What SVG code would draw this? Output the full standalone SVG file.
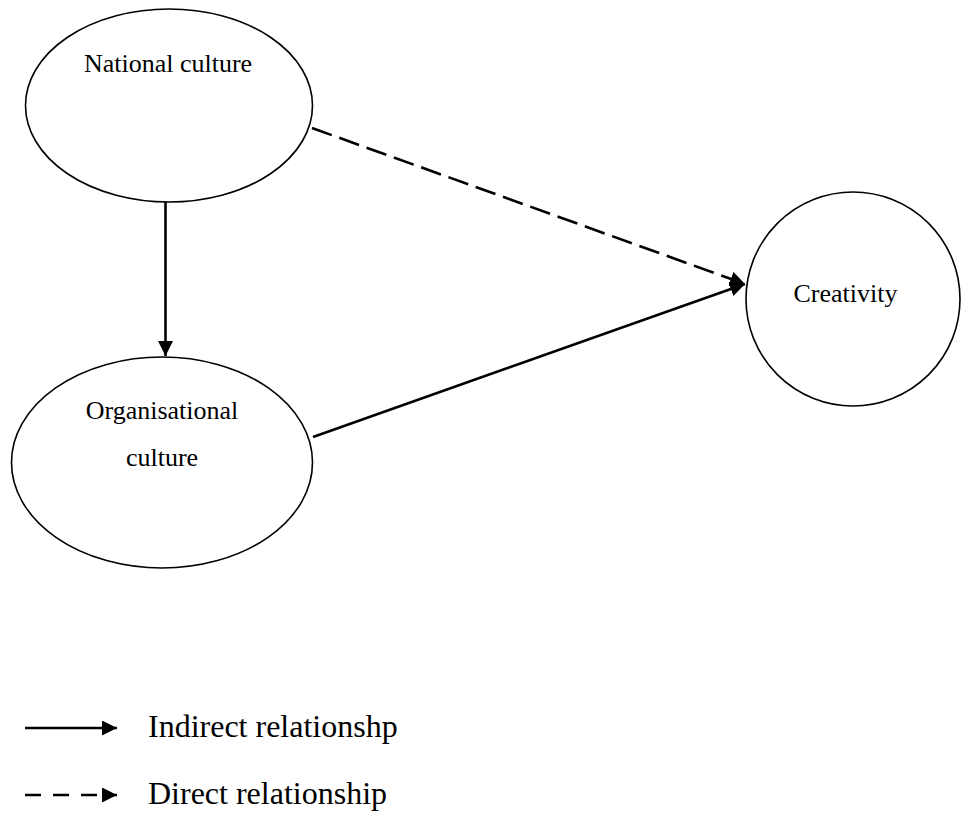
<svg xmlns="http://www.w3.org/2000/svg" width="961" height="813" viewBox="0 0 961 813">
  <style>
    .node { fill: #ffffff; stroke: #000000; stroke-width: 1.6; }
    .label { font-family: "Liberation Serif", "Times New Roman", serif; font-size: 26px; fill: #000000; text-anchor: middle; }
    .legend-text { font-family: "Liberation Serif", "Times New Roman", serif; font-size: 32px; fill: #000000; }
    .edge { fill: none; stroke: #000000; stroke-width: 2.6; }
    .dashed { stroke-dasharray: 21 8; }
    .legend-dashed { stroke-dasharray: 16 12; }
  </style>
  <defs>
    <marker id="arrow" viewBox="0 0 15 15" refX="15" refY="7.5" markerWidth="15" markerHeight="15" markerUnits="userSpaceOnUse" orient="auto">
      <path d="M0,0 L15,7.5 L0,15 z" fill="#000000"/>
    </marker>
  </defs>

  <rect x="0" y="0" width="961" height="813" fill="#ffffff"/>

  <!-- connectors -->
  <g id="connectors">
    <line class="edge" x1="165.5" y1="202" x2="165.5" y2="356" marker-end="url(#arrow)"/>
    <line class="edge dashed" x1="312" y1="128" x2="745" y2="284" marker-end="url(#arrow)"/>
    <line class="edge" x1="313" y1="437" x2="745" y2="284" marker-end="url(#arrow)"/>
  </g>

  <!-- nodes -->
  <g id="national-culture">
    <ellipse class="node" cx="169" cy="105.5" rx="143.5" ry="96.5"/>
    <text class="label" x="168" y="71.5">National culture</text>
  </g>

  <g id="organisational-culture">
    <ellipse class="node" cx="162" cy="462.5" rx="150.5" ry="105.5"/>
    <text class="label" x="162" y="419">Organisational</text>
    <text class="label" x="162" y="466">culture</text>
  </g>

  <g id="creativity">
    <ellipse class="node" cx="853" cy="299" rx="107" ry="107"/>
    <text class="label" x="845.5" y="302">Creativity</text>
  </g>

  <!-- legend -->
  <g id="legend">
    <line class="edge" x1="25" y1="728" x2="117" y2="728" marker-end="url(#arrow)"/>
    <text class="legend-text" x="148" y="737">Indirect relationshp</text>
    <line class="edge legend-dashed" x1="25" y1="795" x2="117" y2="795" marker-end="url(#arrow)"/>
    <text class="legend-text" x="148" y="804">Direct relationship</text>
  </g>
</svg>
